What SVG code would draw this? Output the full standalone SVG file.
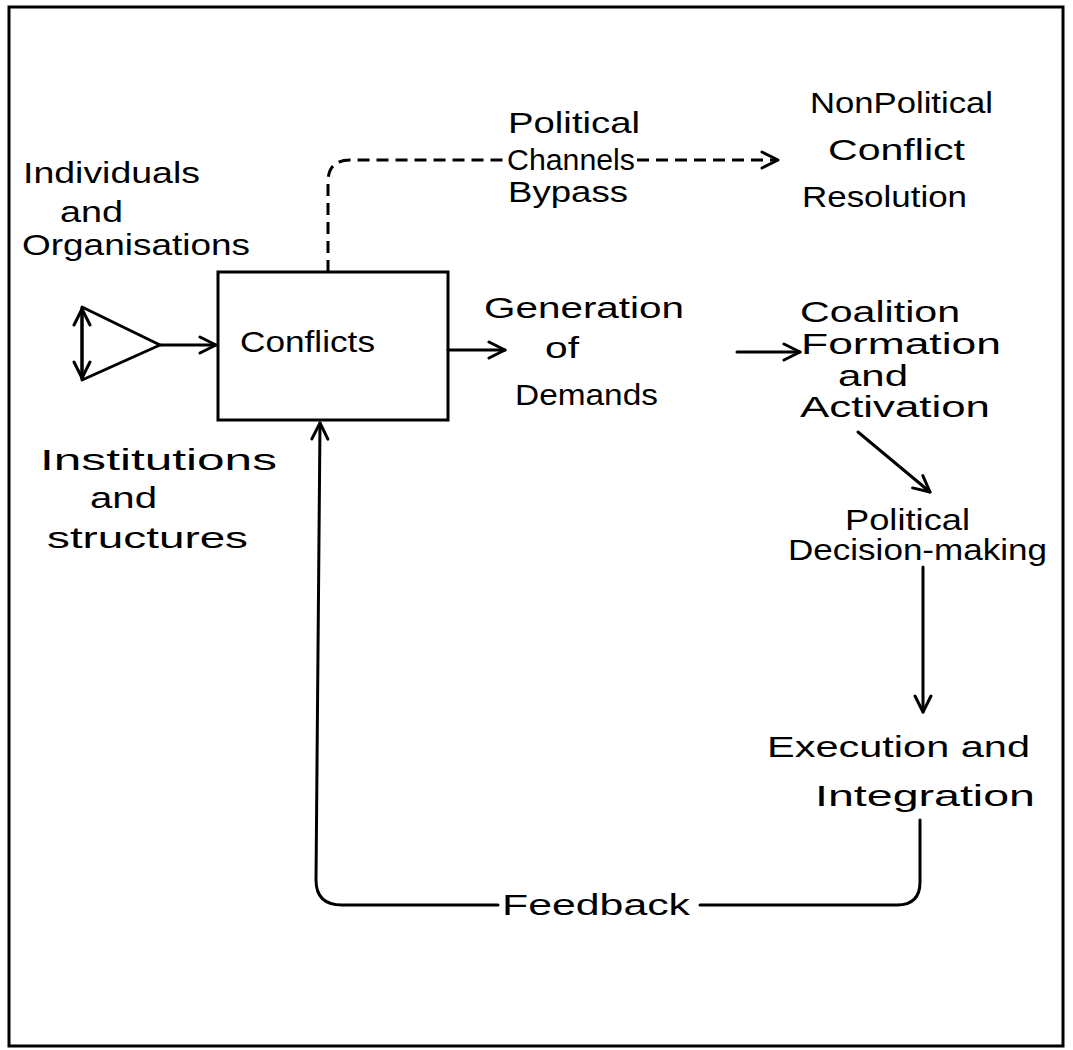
<svg xmlns="http://www.w3.org/2000/svg" width="1073" height="1050" viewBox="0 0 1073 1050">
<defs>
<style>
.t{font-family:"Liberation Sans",Arial,sans-serif;font-size:30px;fill:#000}
.ln{fill:none;stroke:#000;stroke-width:3;stroke-linecap:round;stroke-linejoin:round}
.dash{fill:none;stroke:#000;stroke-width:3;stroke-dasharray:12 7}
</style>
<marker id="ah" viewBox="0 0 20 20" refX="18" refY="10" markerWidth="20" markerHeight="20" markerUnits="userSpaceOnUse" orient="auto-start-reverse">
<path d="M2,2 L18,10 L2,18" fill="none" stroke="#000" stroke-width="3" stroke-linecap="round" stroke-linejoin="round"/>
</marker>
</defs>
<rect width="1073" height="1050" fill="#fff"/>
<rect id="frame" x="9" y="7" width="1054" height="1039" fill="none" stroke="#000" stroke-width="3"/>

<g id="connectors">
<path class="ln" d="M82,309 V378" marker-start="url(#ah)" marker-end="url(#ah)"/>
<path class="ln" d="M160,345 H216" marker-end="url(#ah)"/>
<path class="dash" d="M328,272 V182 Q328,160 350,160 H503"/>
<path class="dash" d="M637,160 H778" marker-end="url(#ah)"/>
<path class="ln" d="M448,350 H505" marker-end="url(#ah)"/>
<path class="ln" d="M737,352 H800" marker-end="url(#ah)"/>
<path class="ln" d="M858,432 L930,492" marker-end="url(#ah)"/>
<path class="ln" d="M923,567 V712" marker-end="url(#ah)"/>
<path class="ln" d="M920,820 V882 Q920,905 897,905 H700"/>
<path class="ln" d="M498,905 H342 Q316,905 316,880 L320,423" marker-end="url(#ah)"/>
</g>

<g id="node-individuals">
<text class="t" x="23" y="183" textLength="177" lengthAdjust="spacingAndGlyphs">Individuals</text>
<text class="t" x="60" y="222" textLength="63" lengthAdjust="spacingAndGlyphs">and</text>
<text class="t" x="22" y="255" textLength="228" lengthAdjust="spacingAndGlyphs">Organisations</text>
</g>
<g id="node-institutions">
<text class="t" x="40" y="470" textLength="237" lengthAdjust="spacingAndGlyphs">Institutions</text>
<text class="t" x="90" y="508" textLength="67" lengthAdjust="spacingAndGlyphs">and</text>
<text class="t" x="47" y="548" textLength="201" lengthAdjust="spacingAndGlyphs">structures</text>
</g>
<g id="node-triangle">
<polygon points="82,307 160,345 82,380" fill="none" stroke="#000" stroke-width="3" stroke-linejoin="round"/>
</g>
<g id="node-conflicts">
<rect x="218" y="272" width="230" height="148" fill="none" stroke="#000" stroke-width="3"/>
<text class="t" x="240" y="352" textLength="135" lengthAdjust="spacingAndGlyphs">Conflicts</text>
</g>
<g id="node-bypass">
<text class="t" x="508" y="133" textLength="132" lengthAdjust="spacingAndGlyphs">Political</text>
<text class="t" x="507" y="170" textLength="128" lengthAdjust="spacingAndGlyphs">Channels</text>
<text class="t" x="508" y="202" textLength="120" lengthAdjust="spacingAndGlyphs">Bypass</text>
</g>
<g id="node-nonpolitical">
<text class="t" x="810" y="113" textLength="183" lengthAdjust="spacingAndGlyphs">NonPolitical</text>
<text class="t" x="828" y="160" textLength="137" lengthAdjust="spacingAndGlyphs">Conflict</text>
<text class="t" x="802" y="207" textLength="165" lengthAdjust="spacingAndGlyphs">Resolution</text>
</g>
<g id="node-generation">
<text class="t" x="484" y="318" textLength="200" lengthAdjust="spacingAndGlyphs">Generation</text>
<text class="t" x="545" y="358" textLength="34" lengthAdjust="spacingAndGlyphs">of</text>
<text class="t" x="515" y="405" textLength="143" lengthAdjust="spacingAndGlyphs">Demands</text>
</g>
<g id="node-coalition">
<text class="t" x="800" y="322" textLength="160" lengthAdjust="spacingAndGlyphs">Coalition</text>
<text class="t" x="801" y="354" textLength="200" lengthAdjust="spacingAndGlyphs">Formation</text>
<text class="t" x="838" y="386" textLength="70" lengthAdjust="spacingAndGlyphs">and</text>
<text class="t" x="800" y="417" textLength="190" lengthAdjust="spacingAndGlyphs">Activation</text>
</g>
<g id="node-decision">
<text class="t" x="845" y="530" textLength="125" lengthAdjust="spacingAndGlyphs">Political</text>
<text class="t" x="788" y="560" textLength="259" lengthAdjust="spacingAndGlyphs">Decision-making</text>
</g>
<g id="node-execution">
<text class="t" x="767" y="757" textLength="263" lengthAdjust="spacingAndGlyphs">Execution and</text>
<text class="t" x="815" y="806" textLength="220" lengthAdjust="spacingAndGlyphs">Integration</text>
</g>
<g id="node-feedback">
<text class="t" x="502" y="915" textLength="188" lengthAdjust="spacingAndGlyphs">Feedback</text>
</g>
</svg>
